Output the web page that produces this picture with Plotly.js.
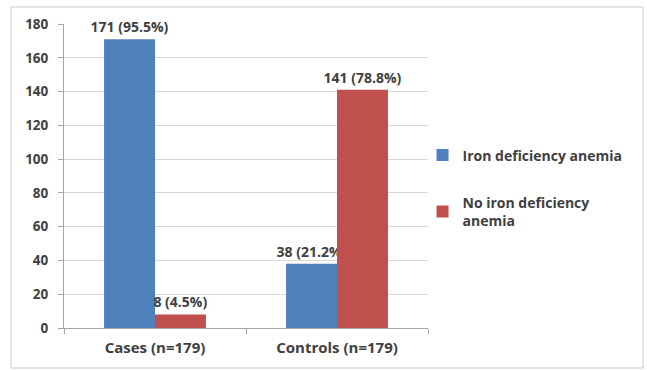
<!DOCTYPE html>
<html>
<head>
<meta charset="utf-8">
<script src="https://cdn.plot.ly/plotly-3.0.1.min.js"></script>
<style>
  html, body { margin: 0; padding: 0; background: #ffffff; }
  #chart { width: 647px; height: 370px; }
</style>
</head>
<body>
<div id="chart"></div>
<script>
const categories = ["Cases (n=179)", "Controls (n=179)"];
const ironDefValues = [171, 38];
const ironDefLabels = ["171 (95.5%)", "38 (21.2%)"];
const noIronDefValues = [8, 141];
const noIronDefLabels = ["8 (4.5%)", "141 (78.8%)"];
const seriesNames = ["Iron deficiency anemia", "No iron deficiency<br>anemia"];
const yTicks = [0, 20, 40, 60, 80, 100, 120, 140, 160, 180];

const fontFam = "Open Sans, Liberation Sans, Arial, sans-serif";
const textFont = { family: fontFam, size: 14, color: "#404040", weight: "bold" };

const traces = [
  {
    type: "bar", name: seriesNames[0], x: categories, y: ironDefValues,
    text: ironDefLabels, textposition: "outside", cliponaxis: false,
    constraintext: "none", legendgroup: "g1",
    textfont: textFont,
    marker: { color: "#4F81BD" }
  },
  {
    type: "bar", name: seriesNames[1], x: categories, y: noIronDefValues,
    text: noIronDefLabels, textposition: "outside", cliponaxis: false,
    constraintext: "none", legendgroup: "g2",
    textfont: textFont,
    marker: { color: "#C0504D" }
  }
];

const layout = {
  width: 647, height: 370,
  margin: { l: 64, r: 219, t: 24, b: 42 },
  paper_bgcolor: "#ffffff", plot_bgcolor: "#ffffff",
  barmode: "group", bargap: 0.44, bargroupgap: 0,
  showlegend: true,
  font: { family: fontFam, color: "#404040" },
  xaxis: {
    type: "category",
    tickfont: { family: fontFam, size: 15, color: "#404040", weight: "bold" },
    showline: true, linecolor: "#a6a6a6", linewidth: 1,
    ticks: "outside", ticklen: 5, tickcolor: "#a6a6a6",
    tickson: "boundaries", ticklabelstandoff: 6,
    showgrid: false, zeroline: false
  },
  yaxis: {
    range: [0, 180], tickvals: yTicks, ticktext: yTicks.map(String),
    tickfont: { family: fontFam, size: 13.5, color: "#404040", weight: "bold" },
    showline: true, linecolor: "#a6a6a6", linewidth: 1,
    ticks: "outside", ticklen: 5, tickcolor: "#a6a6a6",
    ticklabelstandoff: 7,
    showgrid: true, gridcolor: "#d9d9d9", gridwidth: 1,
    zeroline: false
  },
  legend: {
    x: 0.985, xanchor: "left", y: 0.62, yanchor: "top",
    font: { family: fontFam, size: 14, color: "#404040", weight: "bold" },
    tracegroupgap: 26, traceorder: "grouped",
    bgcolor: "rgba(0,0,0,0)"
  },
  shapes: [
    {
      type: "rect", xref: "paper", yref: "paper",
      x0: -0.1456, x1: 1.5907, y0: -0.1316, y1: 1.0559,
      line: { color: "#c8c8c8", width: 1 }, fillcolor: "rgba(0,0,0,0)", layer: "below"
    }
  ]
};

Plotly.newPlot("chart", traces, layout, { displayModeBar: false, staticPlot: true });
</script>
</body>
</html>
